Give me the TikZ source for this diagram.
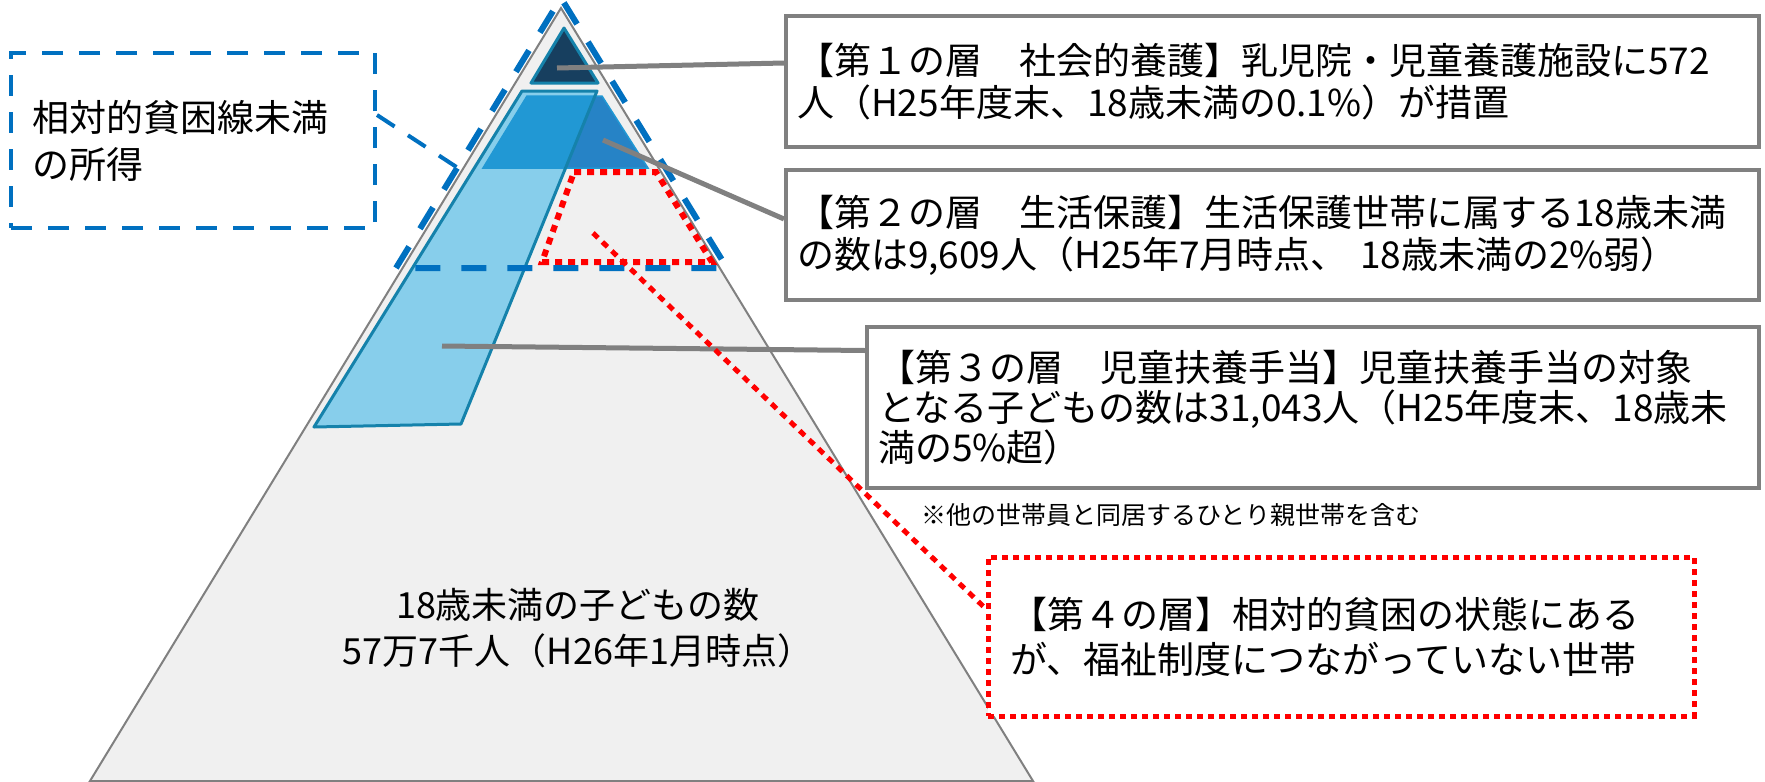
\documentclass[tikz,border=0pt]{standalone}
\usepackage{fontspec}
\setmainfont{Noto Sans CJK JP}
\usetikzlibrary{positioning}
\definecolor{pyrgray}{HTML}{F0F0F0}
\definecolor{linegray}{HTML}{808080}
\definecolor{layerone}{HTML}{173F5F}
\definecolor{layertwo}{HTML}{2683C6}
\definecolor{overlap}{HTML}{2198D4}
\definecolor{layerthree}{HTML}{87CEEB}
\definecolor{tealedge}{HTML}{1582AB}
\definecolor{dashblue}{HTML}{0070C0}

\begin{document}
\begin{tikzpicture}[x=1pt,y=-1pt]
\tikzstyle{box}=[draw=linegray, line width=4pt, fill=white, align=left, inner xsep=11pt, inner ysep=0pt, font=\fontsize{37}{42}\selectfont]
\tikzstyle{link}=[draw=linegray, line width=5pt]
\tikzstyle{bluedashed}=[draw=dashblue, line width=5pt, dash pattern=on 25pt off 21pt]
\tikzstyle{reddotted}=[draw=red, line width=6pt, dash pattern=on 7pt off 6pt]
\useasboundingbox (0,0) rectangle (1765,782);

% pyramid and its layers
\filldraw[fill=pyrgray, draw=linegray, line width=2pt] (90,781) -- (561,8) -- (1033,781) -- cycle;
\fill[layerthree] (522,91) -- (597,91) -- (461,424) -- (314,427) -- cycle;
\filldraw[fill=layertwo, draw=overlap, line width=1.5pt] (527,96) -- (602,96) -- (648,168) -- (483,168) -- cycle;
\begin{scope}
  \clip (522,91) -- (597,91) -- (461,424) -- (314,427) -- cycle;
  \fill[overlap] (527,96) -- (602,96) -- (648,168) -- (483,168) -- cycle;
\end{scope}
\draw[tealedge, line width=3pt, line join=round] (522,91) -- (597,91) -- (461,424) -- (314,427) -- cycle;
\filldraw[fill=layerone, draw=tealedge, line width=3pt, line join=round] (564,28) -- (598,83) -- (531,83) -- cycle;
\draw[reddotted] (574,172) -- (656,172) -- (712,262) -- (542,262) -- cycle;
\draw[bluedashed, line width=6pt] (396,268) -- (561,-2) -- (727,268) -- cycle;

\coordinate (c1) at (557,68);
\coordinate (c2) at (603,140);
\coordinate (c3) at (442,346);
\coordinate (c4) at (593,233);
\coordinate (c5) at (458,168);

\node[font=\fontsize{36}{46}\selectfont, align=center] (total) at (578,628) {18歳未満の子どもの数\\57万7千人（H26年1月時点）};

\node[box, minimum height=131pt, text width=951pt] (b1) at (1272.5,81.5) {【第１の層　社会的養護】乳児院・児童養護施設に572\\人（H25年度末、18歳未満の0.1\%）が措置};
\node[box, minimum height=130pt, text width=951pt] (b2) at (1272.5,235) {【第２の層　生活保護】生活保護世帯に属する18歳未満\\の数は9,609人（H25年7月時点、 18歳未満の2\%弱）};
\node[box, minimum height=161pt, text width=870pt, font=\fontsize{37}{40}\selectfont] (b3) at (1313,407.5) {【第３の層　児童扶養手当】児童扶養手当の対象\\となる子どもの数は31,043人（H25年度末、18歳未\\満の5\%超）};
\node[font=\fontsize{25}{30}\selectfont, anchor=west, inner sep=0pt] (note) at (921,515) {※他の世帯員と同居するひとり親世帯を含む};

\foreach \from/\to/\up in {c1/b1/18.5,c2/b2/16,c3/b3/57}
    \draw[link] (\from) -- ([yshift=\up pt]\to.west);
\draw[reddotted, line width=5pt] (c4) -- (985,608);
\node[box, draw=red, line width=5pt, dash pattern=on 6pt off 5pt, minimum height=159pt, text width=662pt, inner xsep=22pt, font=\fontsize{37}{45}\selectfont] (b4) at (1341,636.5) {【第４の層】相対的貧困の状態にある\\が、福祉制度につながっていない世帯};

\node[box, draw=dashblue, dash pattern=on 21pt off 16pt, minimum height=175pt, text width=322pt, inner xsep=21pt, font=\fontsize{37}{47}\selectfont] (poor) at (193,140.5) {相対的貧困線未満\\の所得};
\draw[bluedashed, line width=4pt, dash pattern=on 21pt off 16pt] ([yshift=25.5pt]poor.east) -- (c5);
\end{tikzpicture}
\end{document}
